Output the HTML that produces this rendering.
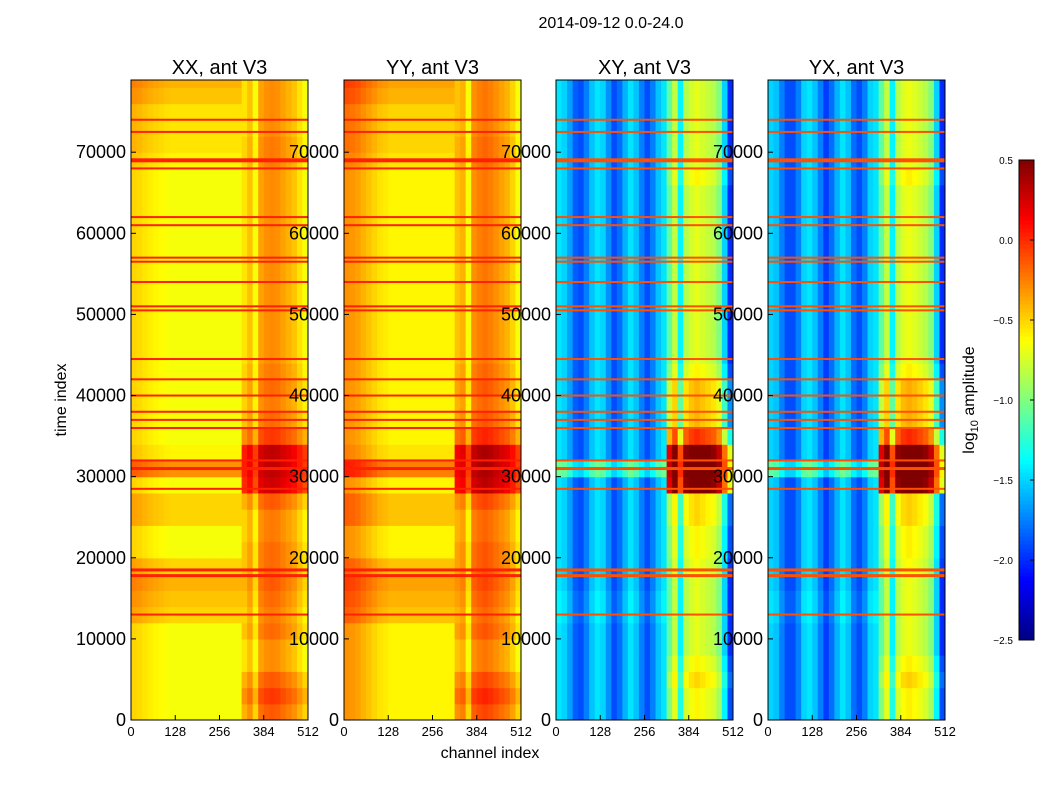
<!DOCTYPE html>
<html><head><meta charset="utf-8"><style>
body{margin:0;background:#fff;}
svg text{font-family:"Liberation Sans","DejaVu Sans",sans-serif;fill:#000;}
</style></head><body>
<svg id="fig" width="1050" height="800" xmlns="http://www.w3.org/2000/svg">
<text x="611" y="28" font-size="16" text-anchor="middle">2014-09-12 0.0-24.0</text>
<text transform="translate(66,400) rotate(-90)" font-size="16" text-anchor="middle">time index</text>
<text x="490" y="758" font-size="16" text-anchor="middle">channel index</text>
<text transform="translate(974,400) rotate(-90)" font-size="16" text-anchor="middle">log<tspan font-size="11" dy="4">10</tspan><tspan dy="-4"> amplitude</tspan></text>
<g id="panels"></g>
<g id="cbar"></g>
</svg>
<script>
const panelTitles=["XX, ant V3","YY, ant V3","XY, ant V3","YX, ant V3"];
const panelLeft=[131,344,556,768];
const xTicks=[0,128,256,384,512];
const yTicks=[0,10000,20000,30000,40000,50000,60000,70000];
const cbarTicks=[0.5,0.0,-0.5,-1.0,-1.5,-2.0,-2.5];
// channel profiles (32 bins of 16 channels), log10 amplitude
const profXX=[-0.5,-0.52,-0.55,-0.58,-0.6,-0.62,-0.64,-0.65,-0.65,-0.65,-0.65,-0.65,-0.65,-0.65,-0.65,-0.65,-0.65,-0.65,-0.65,-0.65,-0.55,-0.45,-0.65,-0.35,-0.3,-0.28,-0.3,-0.35,-0.4,-0.45,-0.55,-0.65];
const profYY=[-0.3,-0.32,-0.35,-0.4,-0.45,-0.5,-0.55,-0.57,-0.6,-0.6,-0.6,-0.6,-0.6,-0.6,-0.6,-0.6,-0.6,-0.6,-0.6,-0.6,-0.45,-0.4,-0.65,-0.3,-0.25,-0.22,-0.25,-0.3,-0.35,-0.4,-0.5,-0.65];
const profXY=[-1.45,-1.5,-1.65,-1.85,-1.9,-1.75,-1.55,-1.45,-1.5,-1.7,-1.9,-1.8,-1.6,-1.45,-1.55,-1.75,-1.9,-1.75,-1.55,-1.45,-1.1,-0.8,-1.4,-0.85,-0.75,-0.7,-0.75,-0.8,-0.85,-1.0,-1.5,-2.0];
const profYX=[-1.5,-1.55,-1.75,-1.9,-1.9,-1.75,-1.5,-1.45,-1.55,-1.75,-1.95,-1.8,-1.6,-1.45,-1.55,-1.8,-1.9,-1.75,-1.5,-1.45,-1.1,-0.8,-1.4,-0.85,-0.72,-0.68,-0.72,-0.78,-0.85,-1.0,-1.5,-2.0];
// time offsets, 40 bins of 2000 (left = ch<320, right = ch>=320)
const tLeftXX=[0,0,0,0,0,0,0.15,0.2,0.25,0.15,0,0,0.15,0.15,0,0.35,0.05,0,0,0,0,0,0,0,0,0,0,0,0,0,0,0,0,0,0.05,0.1,0.1,0.1,0.2,0.25];
const tRightXX=[0.15,0.25,0.15,0,0,0.1,0.05,0.1,0.15,0.1,0.1,0.05,0.05,0.15,0.55,0.6,0.6,0.25,0.1,0.05,0.1,0.05,0,0,0,0,0,0,0,0,0,0,0,0,0.05,0.05,0,0,0,0];
const tLeftCross=[0,0,0,0,0,0,0.05,0.05,0,0,0,0,0,0,0,0.4,0,0,0,0,0,0,0,0,0,0,0,0,0,0,0,0,0,0,0,0,0,0,0,0];
const tRightCross=[0.1,0.1,0.2,0.1,0,0,0,0,0,0.05,0.1,0.1,0.2,0.2,1.3,1.4,1.3,0.7,0.3,0.3,0.3,0.1,0,0,0,0,0,0,0,0,0,0,0,0.1,0,0,0,0,0,0];
const flagRows=[74000,72500,69000,68000,62000,61000,57000,56500,54000,51000,50500,44500,42000,40000,38000,37000,36000,32000,31000,28500,18500,17800,13000];
const flagWidth=[2,2,4,2,2,2,2,2,2,2,2,2,2,2,2,2,2,2,3,2,3,3,2];
const profiles=[profXX,profYY,profXY,profYX];
const tLefts=[tLeftXX,tLeftXX,tLeftCross,tLeftCross];
const tRights=[tRightXX,tRightXX,tRightCross,tRightCross];

const NS="http://www.w3.org/2000/svg";
const PW=177,TOP=80,BOT=720,TMAX=78900,CB0=160,CB1=640;
const ys=v=>BOT-(v/TMAX)*(BOT-TOP);
function jet(v){let x=(v+2.5)/3;x=Math.max(0,Math.min(1,x));
const c=t=>Math.round(255*Math.max(0,Math.min(1,1.5-Math.abs(4*x-t))));
return `rgb(${c(3)},${c(2)},${c(1)})`;}
function mk(tag,attrs,parent){const e=document.createElementNS(NS,tag);for(const k in attrs)e.setAttribute(k,attrs[k]);parent.appendChild(e);return e;}
const G=document.getElementById('panels');
panelLeft.forEach((x0,p)=>{
  const g=mk('g',{},G);
  
  
  const xs=c=>x0+c/512*PW;
  mk('clipPath',{id:'cp'+p},g);
  mk('rect',{x:x0,y:TOP,width:PW,height:BOT-TOP},document.getElementById('cp'+p));
  const hm=mk('g',{'clip-path':'url(#cp'+p+')'},g);
  
  
  const prof=profiles[p];
  for(let t=0;t<40;t++){
    for(let c=0;c<32;c++){
      const v=prof[c]+(c>=20?tRights[p][t]:tLefts[p][t]);
      const r=mk('rect',{x:xs(c*16),y:ys((t+1)*2000),width:PW/32+0.6,height:ys(t*2000)-ys((t+1)*2000)+0.6,fill:jet(v)},hm);
      
      
    }
  }
  flagRows.forEach((f,i)=>{
    const l=mk('rect',{x:x0,y:ys(f)-flagWidth[i]/2,width:PW,height:flagWidth[i],fill:p<2?'#ff2000':'#ff5000'},hm);
    
    
  });
  const fr=mk('rect',{x:x0,y:TOP,width:PW,height:BOT-TOP,fill:'none',stroke:'#000','stroke-width':1},g);
  
  
  const tt=mk('text',{x:x0+PW/2,y:74,'font-size':20,'text-anchor':'middle'},g);tt.textContent=panelTitles[p];
  
  
  xTicks.forEach(v=>{
    mk('line',{x1:xs(v),x2:xs(v),y1:BOT,y2:BOT-5,stroke:'#000'},g);
    const t=mk('text',{x:xs(v),y:BOT+16,'font-size':13,'text-anchor':'middle'},g);t.textContent=v;
    
    
  });
  yTicks.forEach(v=>{
    mk('line',{x1:x0,x2:x0+5,y1:ys(v),y2:ys(v),stroke:'#000'},g);
    const t=mk('text',{x:x0-5,y:ys(v)+6,'font-size':18,'text-anchor':'end'},g);t.textContent=v;
    
    
  });
});
const C=document.getElementById('cbar');


const cs=v=>CB1-(v+2.5)/3*(CB1-CB0);
for(let i=0;i<120;i++){const v=-2.5+i*3/120;
  const r=mk('rect',{x:1019,y:cs(v+3/120),width:15,height:(CB1-CB0)/120+0.5,fill:jet(v+1.5/120)},C);
  
  }
mk('rect',{x:1019,y:CB0,width:15,height:CB1-CB0,fill:'none',stroke:'#000'},C);
cbarTicks.forEach(v=>{
  mk('line',{x1:1030,x2:1034,y1:cs(v),y2:cs(v),stroke:'#000'},C);
  const t=mk('text',{x:1013,y:cs(v)+4,'font-size':10,'text-anchor':'end'},C);
  t.textContent=(v<0?'\u2212':'')+Math.abs(v).toFixed(1);
  
  
});
</script>
</body></html>
